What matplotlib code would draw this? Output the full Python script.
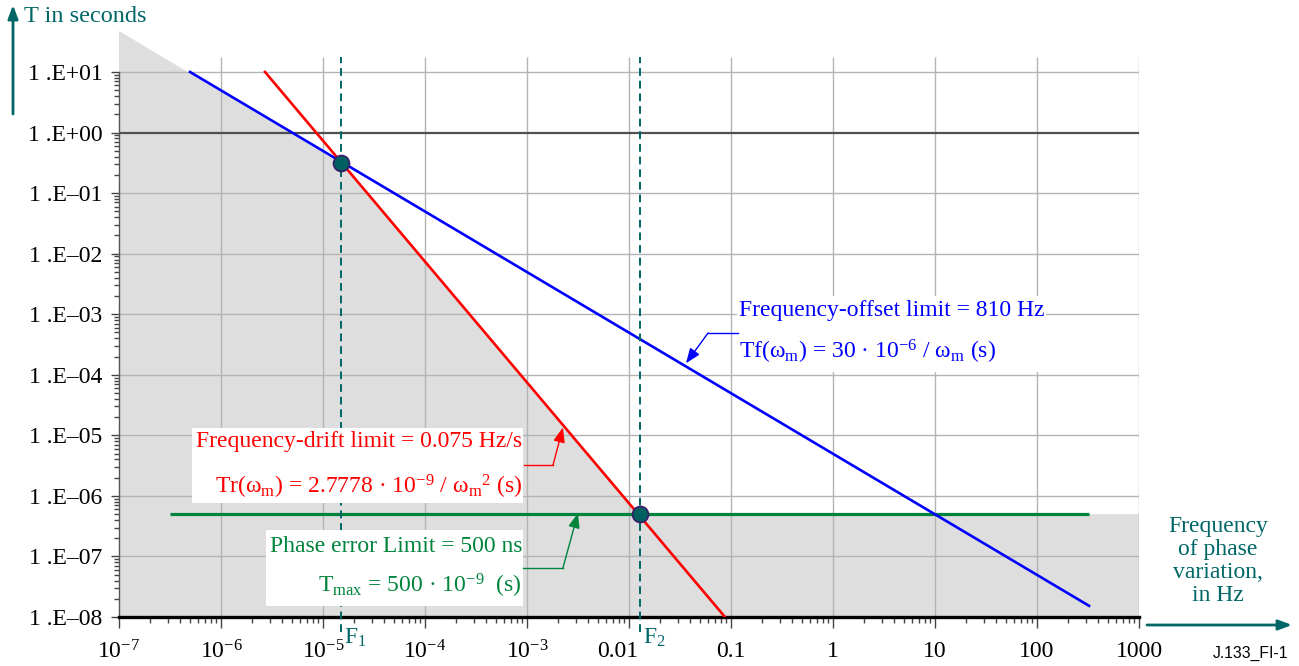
import matplotlib
matplotlib.use("Agg")
import matplotlib.pyplot as plt
from matplotlib.patches import Rectangle, Polygon
from matplotlib.ticker import FixedLocator, NullFormatter
from matplotlib.transforms import ScaledTranslation
import numpy as np

plt.rcParams['font.family'] = ['Liberation Serif', 'DejaVu Serif']
plt.rcParams['mathtext.fontset'] = 'custom'
plt.rcParams['mathtext.rm'] = 'Liberation Serif'
plt.rcParams['mathtext.it'] = 'Liberation Serif'
plt.rcParams['mathtext.default'] = 'regular'

# ---- data ----
x_major = [1e-7, 1e-6, 1e-5, 1e-4, 1e-3, 1e-2, 1e-1, 1, 10, 100, 1000]
x_labels = [r'$10^{-7}$', r'$10^{-6}$', r'$10^{-5}$', r'$10^{-4}$', r'$10^{-3}$',
            '0.01', '0.1', '1', '10', '100', '1000']
y_major = [1e-8, 1e-7, 1e-6, 1e-5, 1e-4, 1e-3, 1e-2, 1e-1, 1, 10]
y_labels = ['1 .E\u201308', '1 .E\u201307', '1 .E\u201306', '1 .E\u201305', '1 .E\u201304',
            '1 .E\u201303', '1 .E\u201302', '1 .E\u201301', '1 .E+00', '1 .E+01']

offset_x = [4.97e-7, 324.0]      # Frequency-offset limit (blue)
offset_y = [10.0, 1.53e-8]
drift_x = [2.7e-6, 0.0873]       # Frequency-drift limit (red)
drift_y = [10.0, 1.0e-8]
phase_x = [3.16e-7, 324.0]       # Phase error limit (green)
phase_y = [5e-7, 5e-7]

cross_x = [1.5e-5, 0.0128]       # intersection points F1, F2
cross_y = [0.31, 5e-7]

region_x = [1e-7, 1.5e-5, 0.0128, 1000, 1000, 1e-7]   # grey allowed region
region_y = [47.5, 0.31, 5e-7, 5e-7, 1e-8, 1e-8]

W, H = 1299, 666
FS = 17
fig = plt.figure(figsize=(W/100, H/100), dpi=100)
ax = fig.add_axes([119/W, 1-617/H, (1139-119)/W, (617-31)/H])
ax.set_xscale('log'); ax.set_yscale('log')
ax.set_xlim(1e-7, 1000)
ax.set_ylim(1e-8, 47.5)

TEAL = '#006666'
GREEN = '#00843d'
GRID = '#b4b4b4'

def px(xp, yp):
    return (xp / W, 1 - yp / H)

# grey region
ax.add_patch(Polygon(np.column_stack([region_x, region_y]), closed=True,
                     facecolor='#dedede', edgecolor='none', zorder=0.5))

# grid
ax.vlines(x_major[1:], 1e-8, 17.7, colors=GRID, lw=1.0, zorder=1)
for yv in y_major[1:]:
    if yv == 1:
        ax.hlines(yv, 1e-7, 1000, colors='#505050', lw=1.6, zorder=1.1)
    else:
        ax.hlines(yv, 1e-7, 1000, colors=GRID, lw=1.0, zorder=1)

# dashed F lines
for xv in cross_x:
    ax.plot([xv, xv], [5.6e-9, 17.7], color=TEAL, lw=1.4, dashes=(4, 2.5),
            zorder=3, clip_on=False)

ax.plot(phase_x, phase_y, color=GREEN, lw=2.3, zorder=2.5, solid_capstyle='butt')
ax.plot(offset_x, offset_y, color='#0000ff', lw=1.9, zorder=2.6)
ax.plot(drift_x, drift_y, color='#ff0000', lw=1.9, zorder=2.7)
ax.plot(cross_x, cross_y, 'o', ms=11.5, mfc='#005f5f', mec='#3a1a6a', mew=1.2,
        zorder=4, ls='none')

# spines and ticks
for s in ['top', 'right']:
    ax.spines[s].set_visible(False)
ax.spines['bottom'].set_linewidth(2.4)
ax.spines['left'].set_linewidth(1.0)
ax.spines['left'].set_color('#555555')
ax.spines['left'].set_bounds(1e-8, 10)
ax.patch.set_alpha(0)

ax.xaxis.set_major_locator(FixedLocator(x_major))
ax.set_xticklabels(x_labels)
xminor = [m * 10.0**e for e in range(-7, 3) for m in range(2, 10)]
ax.xaxis.set_minor_locator(FixedLocator(xminor))
ax.xaxis.set_minor_formatter(NullFormatter())
ax.yaxis.set_major_locator(FixedLocator(y_major))
ax.set_yticklabels(y_labels)
yminor = [m * 10.0**e for e in range(-8, 1) for m in range(2, 10)]
ax.yaxis.set_minor_locator(FixedLocator(yminor))
ax.yaxis.set_minor_formatter(NullFormatter())
ax.tick_params(axis='x', which='major', length=8, width=1, labelsize=FS, pad=9, color='#444444')
ax.tick_params(axis='x', which='minor', length=4.5, width=1, color='#444444')
ax.tick_params(axis='y', which='major', length=6, width=1, labelsize=FS, pad=6, color='#444444')
ax.tick_params(axis='y', which='minor', length=3.5, width=1, color='#444444')

# shift the 0.01 label left so it clears F2
lab = ax.get_xticklabels()[5]
lab.set_transform(lab.get_transform() + ScaledTranslation(-0.11, 0, fig.dpi_scale_trans))

# F labels
ax.text(*px(344, 644), r'F$_{1}$', transform=fig.transFigure, color=TEAL,
        fontsize=FS, ha='left', va='baseline')
ax.text(*px(643, 644), r'F$_{2}$', transform=fig.transFigure, color=TEAL,
        fontsize=FS, ha='left', va='baseline')

# annotation boxes (white, covering grid and dashed lines)
def box(x0, y0, x1, y1):
    fx0, fy1 = px(x0, y0)
    fx1, fy0 = px(x1, y1)
    r = Rectangle((fx0, fy0), fx1 - fx0, fy1 - fy0, transform=fig.transFigure,
                  facecolor='white', edgecolor='none', zorder=4.6, clip_on=False)
    ax.add_artist(r)

box(737, 296, 1046, 372)
ax.text(*px(739, 310), 'Frequency-offset limit = 810 Hz', transform=fig.transFigure,
        color='#0000ff', fontsize=FS, ha='left', va='center', zorder=6)
ax.text(*px(739, 352), r'Tf(ω$_{m}$) = 30 · 10$^{-6}$ / ω$_{m}$ (s)', transform=fig.transFigure,
        color='#0000ff', fontsize=FS, ha='left', va='center', zorder=6)

box(192, 428, 523, 503)
ax.text(*px(522, 442), 'Frequency-drift limit = 0.075 Hz/s', transform=fig.transFigure,
        color='#ff0000', fontsize=FS, ha='right', va='center', zorder=6)
ax.text(*px(522, 487), r'Tr(ω$_{m}$) = 2.7778 · 10$^{-9}$ / ω$_{m}$$^{2}$ (s)',
        transform=fig.transFigure, color='#ff0000', fontsize=FS, ha='right', va='center', zorder=6)

box(266, 530, 523, 606)
ax.text(*px(522, 547), 'Phase error Limit = 500 ns', transform=fig.transFigure,
        color=GREEN, fontsize=FS, ha='right', va='center', zorder=6)
ax.text(*px(522, 586), r'T$_{max}$ = 500 · 10$^{-9}$  (s)', transform=fig.transFigure,
        color=GREEN, fontsize=FS, ha='right', va='center', zorder=6)

# leaders
def leader(pts, color):
    xs = [p[0] for p in pts]; ys = [p[1] for p in pts]
    ax.plot(xs[:-1], ys[:-1], color=color, lw=1.0, zorder=6, clip_on=False)
    ax.annotate('', xy=pts[-1], xytext=pts[-2],
                arrowprops=dict(arrowstyle='-|>,head_length=0.9,head_width=0.35',
                                color=color, lw=1.0, shrinkA=0, shrinkB=0), zorder=6)

leader([(0.117, 4.9e-4), (0.0596, 4.9e-4), (0.0362, 1.55e-4)], '#0000ff')
leader([(9.35e-4, 3.24e-6), (1.8e-3, 3.24e-6), (2.25e-3, 1.35e-5)], '#ff0000')
leader([(9.14e-4, 6.44e-8), (2.25e-3, 6.44e-8), (3.16e-3, 5.2e-7)], GREEN)

# axis titles
fig.text(*px(24, 17), 'T in seconds', color=TEAL, fontsize=FS + 0.5, ha='left', va='center')
ax.annotate('', xy=px(13, 5), xytext=px(13, 114), xycoords='figure fraction',
            textcoords='figure fraction',
            arrowprops=dict(arrowstyle='-|>,head_length=0.8,head_width=0.3',
                            color=TEAL, lw=2, shrinkA=0, shrinkB=0))
fig.text(*px(1218, 561), 'Frequency\nof phase\nvariation,\nin Hz', color=TEAL,
         fontsize=FS, ha='center', va='center', linespacing=1.12)
ax.annotate('', xy=px(1292, 625), xytext=px(1147, 625), xycoords='figure fraction',
            textcoords='figure fraction',
            arrowprops=dict(arrowstyle='-|>,head_length=0.8,head_width=0.3',
                            color=TEAL, lw=2, shrinkA=0, shrinkB=0))
fig.text(*px(1288, 653), 'J.133_FI-1', fontfamily='Liberation Sans', fontsize=11.3,
         ha='right', va='center', color='black')

fig.savefig('out.png', dpi=100)
